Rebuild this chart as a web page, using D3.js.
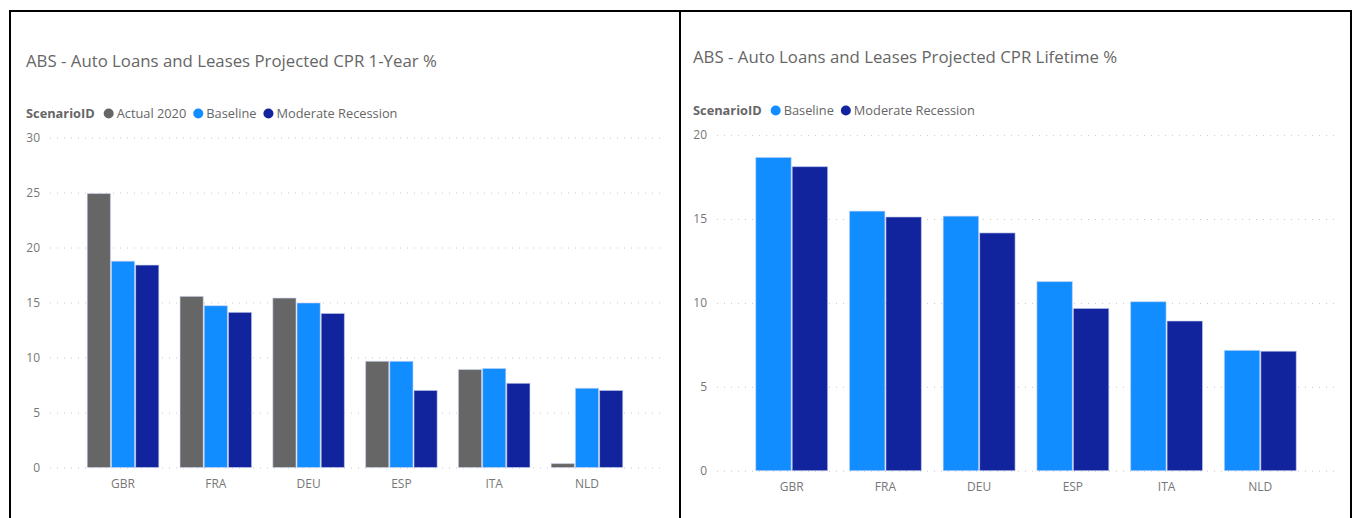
<!DOCTYPE html>
<html>
<head>
<meta charset="utf-8">
<script src="https://cdn.jsdelivr.net/npm/d3@7"></script>
<style>
  html, body { margin: 0; padding: 0; background: #ffffff; }
  svg { display: block; }
  text { font-family: "Segoe UI", "Open Sans", "Noto Sans", sans-serif; }
</style>
</head>
<body>
<svg id="chart" width="1353" height="518"></svg>
<script>
// ---------- data ----------
const categories = ["GBR", "FRA", "DEU", "ESP", "ITA", "NLD"];

const actual2020 = [24.95, 15.6, 15.45, 9.7, 8.95, 0.4];
const baseline1Year = [18.8, 14.75, 15.0, 9.7, 9.05, 7.25];
const recession1Year = [18.45, 14.15, 14.05, 7.05, 7.7, 7.05];

const baselineLifetime = [18.7, 15.5, 15.2, 11.3, 10.1, 7.2];
const recessionLifetime = [18.15, 15.15, 14.2, 9.7, 8.95, 7.15];

const ticks1Year = [0, 5, 10, 15, 20, 25, 30];
const ticksLifetime = [0, 5, 10, 15, 20];

const seriesNames1Year = ["Actual 2020", "Baseline", "Moderate Recession"];
const seriesNamesLifetime = ["Baseline", "Moderate Recession"];

const title1Year = "ABS - Auto Loans and Leases Projected CPR 1-Year %";
const titleLifetime = "ABS - Auto Loans and Leases Projected CPR Lifetime %";
const legendTitle = "ScenarioID";

// ---------- styles ----------
const colorMap = {
  "Actual 2020": "#666666",
  "Baseline": "#118DFF",
  "Moderate Recession": "#12239E"
};

const svg = d3.select("#chart");

// frame lines
const frame = svg.append("g").attr("fill", "#000");
frame.append("rect").attr("x", 9).attr("y", 10).attr("width", 1343).attr("height", 2);
frame.append("rect").attr("x", 9).attr("y", 10).attr("width", 2).attr("height", 508);
frame.append("rect").attr("x", 679).attr("y", 10).attr("width", 2).attr("height", 508);
frame.append("rect").attr("x", 1350).attr("y", 10).attr("width", 2).attr("height", 508);

function drawChart(cfg) {
  const g = svg.append("g");

  // title
  g.append("text")
    .attr("x", cfg.left)
    .attr("y", cfg.titleY)
    .attr("font-size", 16.8)
    .attr("fill", "#666666")
    .text(cfg.title);

  // legend
  const lg = g.append("g").attr("transform", `translate(${cfg.left},${cfg.legendY})`);
  const lt = lg.append("text")
    .attr("x", 0).attr("y", 0)
    .attr("font-size", 12.8)
    .attr("font-weight", "bold")
    .attr("fill", "#666666")
    .text(legendTitle);
  let lx = lt.node().getComputedTextLength() + 14;
  cfg.series.forEach(s => {
    lg.append("circle").attr("cx", lx).attr("cy", -4.5).attr("r", 5).attr("fill", colorMap[s.name]);
    const t = lg.append("text")
      .attr("x", lx + 8).attr("y", 0)
      .attr("font-size", 12.8)
      .attr("fill", "#666666")
      .text(s.name);
    lx += 8 + t.node().getComputedTextLength() + 12;
  });

  // scales
  const y = d3.scaleLinear().domain(cfg.domain).range([cfg.y0, cfg.y1]);
  const x = d3.scaleBand()
    .domain(categories)
    .range([cfg.x0, cfg.x1])
    .paddingInner(cfg.padInner)
    .paddingOuter(cfg.padOuter);
  const xs = d3.scaleBand()
    .domain(cfg.series.map(s => s.name))
    .range([0, x.bandwidth()])
    .padding(0);

  // gridlines
  const yAxis = d3.axisLeft(y)
    .tickValues(cfg.ticks)
    .tickSize(-(cfg.x1 - cfg.x0))
    .tickPadding(10)
    .tickFormat(d3.format("d"));
  const ag = g.append("g")
    .attr("transform", `translate(${cfg.x0},0)`)
    .call(yAxis);
  ag.select(".domain").remove();
  ag.selectAll(".tick line")
    .attr("stroke", "#C8C8C8")
    .attr("stroke-width", 1)
    .attr("stroke-dasharray", "1,6");
  ag.selectAll(".tick text")
    .attr("font-size", 12)
    .attr("fill", "#777777")
    .attr("font-family", "'Segoe UI', 'Open Sans', 'Noto Sans', sans-serif");

  // bars
  const groups = g.append("g").selectAll("g")
    .data(categories)
    .join("g")
    .attr("transform", d => `translate(${x(d)},0)`);
  groups.selectAll("rect")
    .data((d, i) => cfg.series.map(s => ({ name: s.name, value: s.values[i] })))
    .join("rect")
    .attr("x", d => xs(d.name) + 0.5)
    .attr("width", xs.bandwidth() - 1)
    .attr("y", d => y(d.value) + 0.5)
    .attr("height", d => y(0) - y(d.value) - 0.5)
    .attr("fill", d => colorMap[d.name])
    .attr("stroke", "#C9D4F0")
    .attr("stroke-opacity", 0.6)
    .attr("stroke-width", 1);

  // x axis labels
  const xAxis = d3.axisBottom(x).tickSize(0).tickPadding(12);
  const xg = g.append("g")
    .attr("transform", `translate(0,${cfg.y0})`)
    .call(xAxis);
  xg.select(".domain").remove();
  xg.selectAll(".tick text")
    .attr("font-size", 12)
    .attr("fill", "#777777")
    .attr("font-family", "'Segoe UI', 'Open Sans', 'Noto Sans', sans-serif");
}

drawChart({
  title: title1Year,
  left: 26,
  titleY: 67,
  legendY: 118,
  series: seriesNames1Year.map((n, i) => ({ name: n, values: [actual2020, baseline1Year, recession1Year][i] })),
  domain: [0, 30],
  ticks: ticks1Year,
  y0: 467.5,
  y1: 137.5,
  x0: 50,
  x1: 660,
  padInner: 0.218,
  padOuter: 0.396
});

drawChart({
  title: titleLifetime,
  left: 693,
  titleY: 63,
  legendY: 115,
  series: seriesNamesLifetime.map((n, i) => ({ name: n, values: [baselineLifetime, recessionLifetime][i] })),
  domain: [0, 20],
  ticks: ticksLifetime,
  y0: 470.7,
  y1: 135.1,
  x0: 717,
  x1: 1335,
  padInner: 0.222,
  padOuter: 0.408
});
</script>
</body>
</html>
